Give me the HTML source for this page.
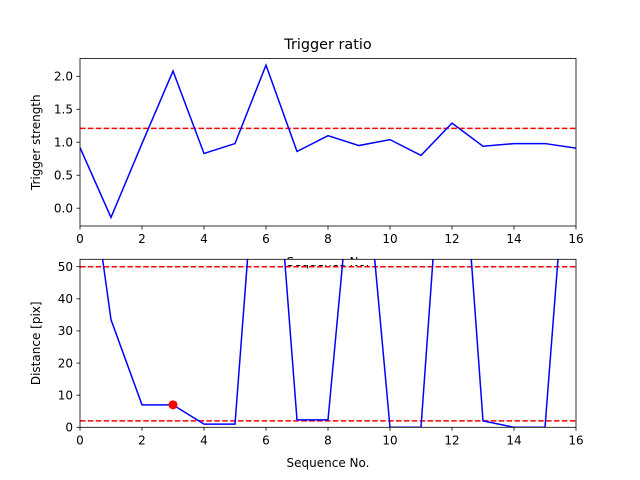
<!DOCTYPE html>
<html><head><meta charset="utf-8"><style>body{margin:0;background:#fff}svg{display:block;font-family:"DejaVu Sans","Liberation Sans",sans-serif}</style></head>
<body>
<svg id="c" width="640" height="480"></svg>
<script>
const xs=[0,1,2,3,4,5,6,7,8,9,10,11,12,13,14,15,16];
const ratio=[0.92,-0.14,0.98,2.08,0.83,0.98,2.17,0.86,1.10,0.95,1.04,0.80,1.29,0.94,0.98,0.98,0.91];
const ratioThreshold=1.21;
const dist=[103,33.5,7,7,1,1,128,2.3,2.3,106,0,0,135,2,0,0,125];
const distLow=2, distHigh=50;
const marker=[3,7];
const xTicks=[0,2,4,6,8,10,12,14,16];
const yTicksTop=[0,0.5,1.0,1.5,2.0];
const yTicksBot=[0,10,20,30,40,50];
const svg=document.getElementById('c');const NS='http://www.w3.org/2000/svg';
function el(t,a,p){const e=document.createElementNS(NS,t);for(const k in a)e.setAttribute(k,a[k]);(p||svg).appendChild(e);return e;}
const L=80,R=576;
const X=v=>L+(v-0)/16*(R-L);
function panel(top,bot,ymin,ymax,ys,thr,ticks,fmt,ylabel,name,xlabY){
  const Y=v=>bot-(v-ymin)/(ymax-ymin)*(bot-top);
  const g=el('g',{});
  const cid='clip-'+name;const cp=el('clipPath',{id:cid},g);el('rect',{x:L,y:top,width:R-L,height:bot-top},cp);
  const pg=el('g',{'clip-path':'url(#'+cid+')'},g);
  thr.forEach(t=>{const l=el('line',{x1:L,x2:R,y1:Y(t),y2:Y(t),stroke:'#ff0000','stroke-width':1.5,'stroke-dasharray':'5.5,2.4'},pg);});
  const p=el('polyline',{points:xs.map((x,i)=>X(x)+','+Y(ys[i])).join(' '),fill:'none',stroke:'#0000ff','stroke-width':1.5},pg);
  
  el('rect',{x:L,y:top,width:R-L,height:bot-top,fill:'none',stroke:'#000','stroke-width':0.8},g);
  xTicks.forEach(t=>{el('line',{x1:X(t),x2:X(t),y1:bot,y2:bot+3.5,stroke:'#000','stroke-width':0.8},g);
    const tx=el('text',{x:X(t),y:bot+17,'font-size':12,'text-anchor':'middle'},g);tx.textContent=t;});
  ticks.forEach(t=>{el('line',{x1:L,x2:L-3.5,y1:Y(t),y2:Y(t),stroke:'#000','stroke-width':0.8},g);
    const tx=el('text',{x:L-7,y:Y(t)+4.3,'font-size':12,'text-anchor':'end'},g);tx.textContent=fmt(t);});
  const yl=el('text',{x:0,y:0,'font-size':12,'text-anchor':'middle',transform:`translate(40,${(top+bot)/2}) rotate(-90)`},g);yl.textContent=ylabel;
  
  const xl=el('text',{x:(L+R)/2,y:xlabY,'font-size':12,'text-anchor':'middle'},g);xl.textContent='Sequence No.';
  
  return {Y,g};
}
const t=el('text',{x:328,y:49,'font-size':14.4,'text-anchor':'middle'});t.textContent='Trigger ratio';

const p1=panel(58.5,226,-0.27,2.27,ratio,[ratioThreshold],yTicksTop,v=>v.toFixed(1),'Trigger strength','top-panel',266);
const bg=el('rect',{x:L,y:259,width:R-L,height:6,fill:'#fff'});
const p2=panel(259.3,427.3,0,52.3,dist,[distLow,distHigh],yTicksBot,v=>v,'Distance [pix]','bottom-panel',467);
const m=el('circle',{cx:X(marker[0]),cy:p2.Y(marker[1]),r:4.5,fill:'#ff0000'});

</script>
</body></html>
